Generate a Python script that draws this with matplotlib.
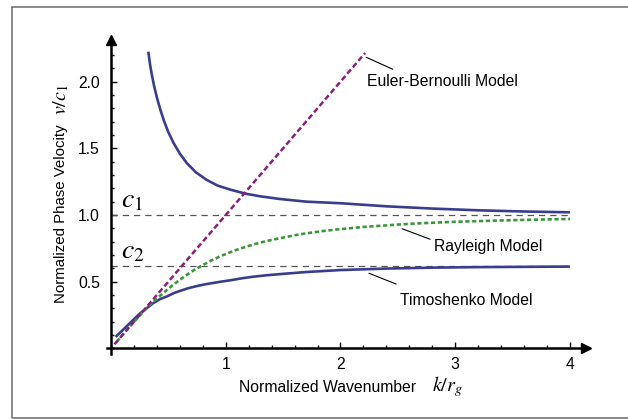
import matplotlib
matplotlib.use("Agg")
import matplotlib.pyplot as plt
from matplotlib.patches import Rectangle
from matplotlib.ticker import MultipleLocator, FixedLocator

plt.rcParams['font.family'] = ['Liberation Sans', 'DejaVu Sans']
plt.rcParams['mathtext.fontset'] = 'stix'

# Timoshenko model, upper branch (phase velocity falls towards c1)
k_timo_hi = [0.325, 0.34, 0.355, 0.375, 0.40, 0.43, 0.46, 0.50, 0.545, 0.60, 0.66,
             0.74, 0.83, 0.93, 1.04, 1.17, 1.30, 1.47, 1.70, 2.0, 2.4, 2.8, 3.2, 3.6, 4.0]
v_timo_hi = [2.225, 2.13, 2.055, 1.97, 1.88, 1.79, 1.71, 1.62, 1.54, 1.46, 1.39,
             1.32, 1.265, 1.22, 1.19, 1.16, 1.14, 1.12, 1.10, 1.088, 1.065, 1.048, 1.035, 1.026, 1.02]

# Timoshenko model, lower branch (rises towards c2)
k_timo_lo = [0.04, 0.10, 0.166, 0.25, 0.31, 0.37, 0.43, 0.49, 0.55, 0.60, 0.67, 0.75, 0.82,
             0.89, 0.96, 1.04, 1.14, 1.24, 1.36, 1.48, 1.7, 2.0, 2.4, 2.8, 3.2, 3.6, 4.0]
v_timo_lo = [0.085, 0.135, 0.19, 0.26, 0.30, 0.34, 0.37, 0.39, 0.415, 0.43, 0.45, 0.467, 0.48,
             0.49, 0.50, 0.51, 0.525, 0.537, 0.548, 0.557, 0.572, 0.587, 0.598, 0.605, 0.609, 0.611, 0.613]

# Rayleigh model
k_rayleigh = [0.05, 0.15, 0.25, 0.31, 0.37, 0.43, 0.49, 0.54, 0.61, 0.65, 0.69, 0.72, 0.76,
              0.834, 0.87, 0.94, 0.98, 1.02, 1.08, 1.12, 1.18, 1.25, 1.32, 1.40, 1.475,
              1.6, 1.7, 1.85, 2.0, 2.2, 2.5, 2.7, 3.0, 3.2, 3.5, 3.7, 4.0]
v_rayleigh = [0.05, 0.15, 0.245, 0.30, 0.35, 0.395, 0.44, 0.475, 0.52, 0.545, 0.568, 0.585, 0.605,
              0.64, 0.656, 0.685, 0.70, 0.714, 0.734, 0.746, 0.763, 0.781, 0.797, 0.813, 0.826,
              0.848, 0.862, 0.88, 0.894, 0.91, 0.928, 0.938, 0.949, 0.954, 0.961, 0.965, 0.97]

# Euler-Bernoulli model (straight line)
k_euler = [0.03, 2.215]
v_euler = [0.03, 2.215]

# asymptotic speeds
c1 = 1.0
c2 = 0.62
k_max = 4.0

x_ticks = [1, 2, 3, 4]
y_ticks = [0.5, 1.0, 1.5, 2.0]
y_ticklabels = ["0.5", "1.0", "1.5", "2.0"]

blue = "#393d8c"
purple = "#8c1f7e"
green = "#3a983a"
fs = 11.3
W, H = 628, 419

fig = plt.figure(figsize=(6.28, 4.19), dpi=100)
ax = fig.add_axes([107 / W, 0.1544, 479 / W, 0.7494])

# frame around the whole figure
fig.patches.append(Rectangle((12 / W, 1.5 / H), 1.2, 1 - 8.5 / H,
                             transform=fig.transFigure, fill=False,
                             edgecolor="#6a6a6a", linewidth=1.1))

ax.set_xlim(-0.035, 4.14)
ax.set_ylim(-0.045, 2.31)

# reference speeds
ax.plot([0, k_max], [c1, c1], color="#555555", lw=0.9, dashes=(5, 4))
ax.plot([0, k_max], [c2, c2], color="#555555", lw=0.9, dashes=(5, 4))

ax.plot(k_timo_hi, v_timo_hi, color=blue, lw=1.9, solid_capstyle='butt')
ax.plot(k_timo_lo, v_timo_lo, color=blue, lw=1.9, solid_capstyle='butt')
ax.plot(k_rayleigh, v_rayleigh, color=green, lw=1.9, dashes=(1.6, 1.0))
ax.plot(k_euler, v_euler, color=purple, lw=1.8, dashes=(2.2, 1.2))

ax.text(0.085, 1.055, r"$c_1$", fontsize=20, ha="left", va="baseline")
ax.text(0.085, 0.675, r"$c_2$", fontsize=20, ha="left", va="baseline")

# model labels with leader lines
lead = dict(arrowstyle="-", color="black", lw=0.8, shrinkA=0, shrinkB=0)
ax.annotate("", xy=(2.223, 2.183), xytext=(2.456, 2.093), arrowprops=lead)
ax.text(2.232, 2.0, "Euler-Bernoulli Model", fontsize=fs, ha="left", va="center")
ax.annotate("", xy=(2.537, 0.897), xytext=(2.781, 0.818), arrowprops=lead)
ax.text(2.816, 0.762, "Rayleigh Model", fontsize=fs, ha="left", va="center")
ax.annotate("", xy=(2.248, 0.563), xytext=(2.485, 0.482), arrowprops=lead)
ax.text(2.52, 0.357, "Timoshenko Model", fontsize=fs, ha="left", va="center")

# axes through the origin with arrow heads
for side in ["top", "right"]:
    ax.spines[side].set_visible(False)
ax.spines["left"].set_position(("data", 0))
ax.spines["bottom"].set_position(("data", 0))
ax.spines["left"].set_linewidth(1.8)
ax.spines["bottom"].set_linewidth(1.8)
ax.plot(1, 0, ">k", ms=7, transform=ax.get_yaxis_transform(), clip_on=False)
ax.plot(0, 1, "^k", ms=7, transform=ax.get_xaxis_transform(), clip_on=False)

ax.xaxis.set_major_locator(FixedLocator(x_ticks))
ax.yaxis.set_major_locator(FixedLocator(y_ticks))
ax.set_yticklabels(y_ticklabels)
ax.xaxis.set_minor_locator(MultipleLocator(0.2))
ax.yaxis.set_minor_locator(MultipleLocator(0.1))
ax.tick_params(which="both", direction="in", width=1.0, labelsize=fs)
ax.tick_params(which="major", length=4)
ax.tick_params(which="minor", length=2.5)
ax.tick_params(axis="x", pad=6)
ax.tick_params(axis="y", pad=8)

# axis titles: sans text followed by a larger italic symbol part
fig.text(239 / W, 1 - 391.5 / H, "Normalized Wavenumber", fontsize=fs,
         ha="left", va="baseline")
fig.text(432 / W, 1 - 391.5 / H, r"$k/r_g$", fontsize=14.5,
         ha="left", va="baseline")
fig.text(65 / W, 1 - 303 / H, "Normalized Phase Velocity", fontsize=10.8,
         rotation=90, rotation_mode="anchor", ha="left", va="baseline")
fig.text(66 / W, 1 - 115 / H, r"$v/c_1$", fontsize=14.5,
         rotation=90, rotation_mode="anchor", ha="left", va="baseline")

fig.savefig("out.png", dpi=100)
